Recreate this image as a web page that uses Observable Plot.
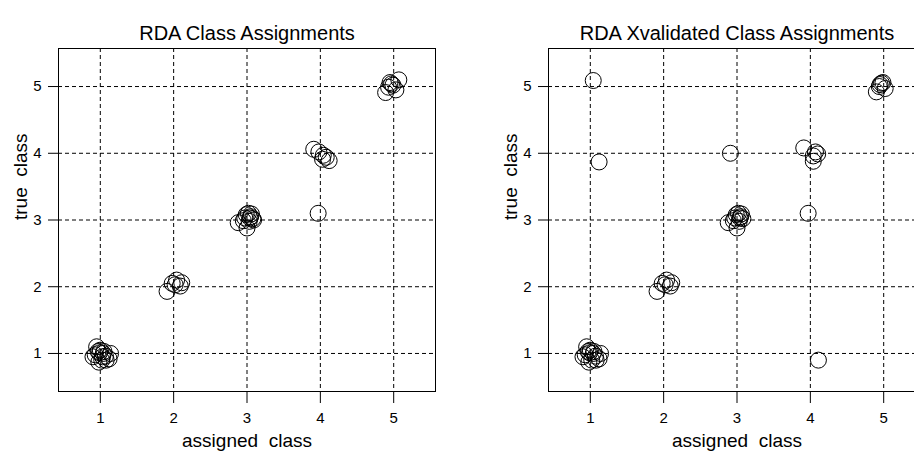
<!DOCTYPE html>
<html>
<head>
<meta charset="utf-8">
<script src="https://cdn.jsdelivr.net/npm/d3@7"></script>
<script src="https://cdn.jsdelivr.net/npm/@observablehq/plot@0.6"></script>
<style>
  html, body { margin: 0; padding: 0; background: #fff; overflow: hidden; }
  #wrap { position: relative; width: 914px; height: 458px; overflow: hidden; }
  #left, #right { position: absolute; top: 0; width: 457px; height: 458px; }
  #left { left: 0; }
  #right { left: 490px; }
  svg { max-width: none !important; }
</style>
</head>
<body>
<div id="wrap"><div id="left"></div><div id="right"></div></div>
<script>
// Tick values and labels
const xTicks = [1, 2, 3, 4, 5];
const yTicks = [1, 2, 3, 4, 5];
const xLabel = "assigned  class";
const yLabel = "true  class";
const leftTitle = "RDA Class Assignments";
const rightTitle = "RDA Xvalidated Class Assignments";

// Left panel: jittered (assigned, true) pairs
const leftAssigned = [
  0.95, 0.93, 1.00, 1.04, 0.98, 1.07, 1.14, 1.02, 0.90, 1.12, 1.05, 0.99, 1.08, 0.97, 1.03,
  1.91, 1.98, 2.04, 2.11, 2.09, 2.02,
  2.88, 3.00, 3.02, 3.05, 3.08, 2.97, 3.03, 2.99, 3.06, 2.95, 3.04, 3.09,
  3.97,
  3.91, 3.98, 4.04, 4.08, 4.12, 4.03,
  4.89, 4.93, 4.97, 5.07, 5.03, 4.99, 4.95
];
const leftTrue = [
  1.10, 0.98, 1.05, 1.00, 0.87, 0.96, 1.00, 0.90, 0.95, 0.92, 1.03, 1.01, 0.90, 1.03, 0.95,
  1.93, 2.05, 2.10, 2.06, 2.01, 2.03,
  2.96, 2.88, 3.10, 3.05, 3.02, 3.03, 2.98, 3.08, 3.09, 2.99, 3.03, 3.00,
  3.10,
  4.06, 4.02, 3.97, 3.94, 3.89, 3.91,
  4.91, 4.99, 5.04, 5.10, 4.95, 5.02, 5.06
];

// Right panel: cross-validated (assigned, true) pairs
const rightAssigned = [
  0.95, 0.93, 1.00, 1.04, 0.98, 1.07, 1.14, 1.02, 0.90, 1.12, 1.05, 0.99, 1.08, 0.97,
  1.04, 1.12,
  1.91, 1.98, 2.04, 2.11, 2.09, 2.02,
  2.91,
  2.88, 3.00, 3.02, 3.05, 3.08, 2.97, 3.03, 2.99, 3.06, 2.95, 3.04,
  3.97,
  3.91, 4.07, 4.04, 4.04, 4.10,
  4.11,
  4.90, 4.94, 4.97, 5.02, 4.95, 4.99
];
const rightTrue = [
  1.10, 0.98, 1.05, 1.00, 0.87, 0.96, 1.00, 0.90, 0.95, 0.92, 1.03, 1.01, 0.90, 1.03,
  5.09, 3.87,
  1.93, 2.05, 2.10, 2.06, 2.01, 2.03,
  4.00,
  2.96, 2.88, 3.10, 3.05, 3.02, 3.03, 2.98, 3.08, 3.09, 2.99, 3.03,
  3.10,
  4.08, 4.02, 3.96, 3.88, 3.99,
  0.90,
  4.92, 5.00, 5.05, 4.97, 5.03, 5.06
];

const domain = [0.43, 5.57];

function panel(title, xs, ys) {
  const pts = xs.map((x, i) => ({x, y: ys[i]}));
  return Plot.plot({
    width: 457,
    height: 458,
    marginLeft: 58,
    marginRight: 22,
    marginTop: 48,
    marginBottom: 67,
    style: {fontFamily: "'Liberation Sans', Arial, sans-serif", color: "black", background: "white", maxWidth: "none"},
    x: {domain, nice: false},
    y: {domain, nice: false},
    marks: [
      Plot.gridX(xTicks, {stroke: "black", strokeOpacity: 1, strokeDasharray: "4,3", strokeWidth: 1}),
      Plot.gridY(yTicks, {stroke: "black", strokeOpacity: 1, strokeDasharray: "4,3", strokeWidth: 1}),
      Plot.frame({stroke: "black", strokeWidth: 1}),
      Plot.axisX({ticks: xTicks, tickFormat: d => String(d), tickSize: 12, tickPadding: 9, fontSize: 15, label: null}),
      Plot.axisY({ticks: yTicks, tickFormat: d => String(d), tickSize: 10, tickPadding: 7, fontSize: 15, label: null}),
      Plot.dot(pts, {x: "x", y: "y", r: 8, stroke: "black", strokeWidth: 1, fill: "none"}),
      Plot.text([title], {frameAnchor: "top", dy: -23, fontSize: 20}),
      Plot.text([xLabel], {frameAnchor: "bottom", dy: 55, fontSize: 19}),
      Plot.text([yLabel], {frameAnchor: "left", dx: -38, rotate: -90, fontSize: 19})
    ]
  });
}

document.getElementById("left").appendChild(panel(leftTitle, leftAssigned, leftTrue));
document.getElementById("right").appendChild(panel(rightTitle, rightAssigned, rightTrue));
</script>
</body>
</html>
